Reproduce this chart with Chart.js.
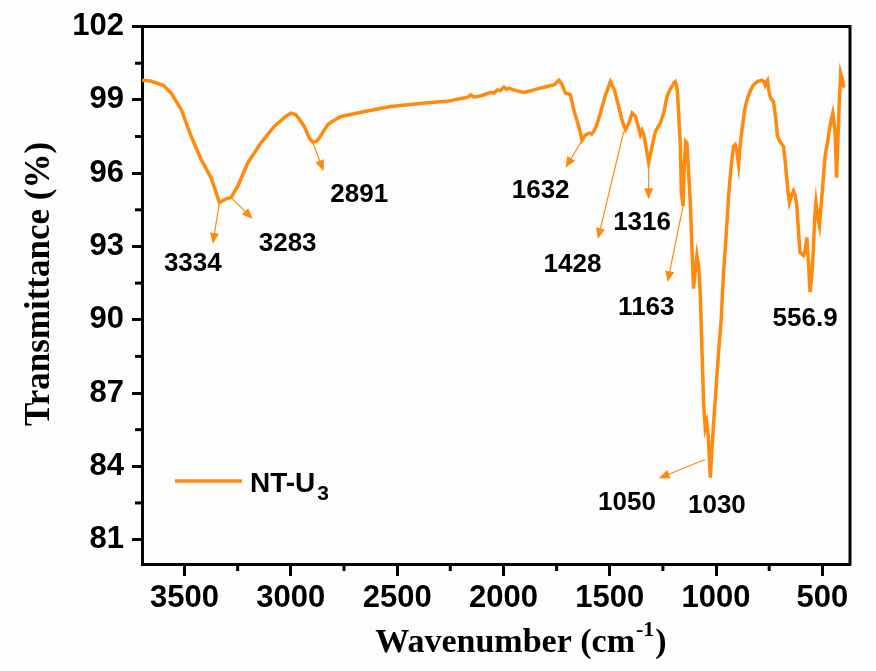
<!DOCTYPE html>
<html>
<head>
<meta charset="utf-8">
<title>FTIR NT-U3</title>
<script src="https://cdn.jsdelivr.net/npm/chart.js@4.4.0/dist/chart.umd.min.js"></script>
<style>
  html,body{margin:0;padding:0;background:#fdfdfd;}
  #wrap{width:876px;height:671px;}
</style>
</head>
<body>
<div id="wrap"><canvas id="ftir" width="876" height="671"></canvas></div>
<script>
// --- data ---
const wavenumber = [3700,3660,3600,3562,3515,3469,3422,3375,3336,3304,3281,3249,3202,3140,3077,3020,2999,2976,2955,2937,2913,2897,2880,2866,2827,2800,2764,2686,2600,2530,2450,2380,2300,2263,2220,2200,2170,2154,2140,2123,2100,2080,2060,2045,2029,2015,1998,1985,1975,1951,1930,1904,1870,1840,1794,1760,1739,1725,1708,1695,1685,1669,1646,1630,1615,1599,1585,1575,1560,1544,1520,1497,1478,1458,1440,1426,1410,1395,1379,1356,1348,1340,1328,1317,1301,1285,1262,1245,1231,1215,1207,1198,1192,1186,1181,1168,1163,1155,1149,1143,1137,1129,1121,1112,1106,1098,1090,1082,1074,1066,1058,1051,1044,1036,1027,1020,1012,1000,988,976,965,952,941,930,918,910,902,894,886,878,865,855,840,824,805,785,775,769,763,758,752,746,738,730,720,711,700,683,675,667,661,655,645,636,628,620,612,605,597,589,580,573,565,558,550,542,536,530,522,514,500,487,475,467,458,451,445,440,433,429,425,420,414,408,402,398];
const transmittance = [99.8,99.77,99.6,99.27,98.6,97.51,96.56,95.81,94.8,94.95,95.0,95.48,96.43,97.24,97.92,98.35,98.46,98.39,98.15,97.92,97.44,97.27,97.3,97.44,97.98,98.15,98.32,98.46,98.62,98.73,98.8,98.86,98.92,98.94,99.02,99.06,99.1,99.2,99.12,99.14,99.18,99.25,99.3,99.28,99.41,99.38,99.52,99.43,99.48,99.41,99.36,99.3,99.38,99.45,99.55,99.62,99.81,99.65,99.27,99.25,99.2,98.59,97.92,97.35,97.55,97.64,97.6,97.71,98.0,98.46,99.2,99.75,99.4,98.73,98.1,97.78,98.05,98.46,98.32,97.58,97.75,97.58,97.0,96.43,97.1,97.71,98.05,98.5,99.14,99.45,99.55,99.7,99.75,99.6,99.27,97.1,95.2,94.66,96.43,97.3,97.24,96.0,94.8,92.6,91.27,92.0,92.63,92.2,91.0,88.69,86.5,85.57,85.8,85.16,83.53,84.6,85.7,87.2,88.69,90.0,91.9,93.5,95.07,96.2,97.1,97.17,96.9,96.35,97.2,97.78,98.6,99.0,99.35,99.61,99.75,99.81,99.75,99.61,99.75,99.81,99.4,99.14,99.0,98.94,98.3,97.51,97.3,97.1,96.5,95.74,95.2,94.8,95.1,95.27,95.1,94.66,93.6,92.76,92.7,92.63,92.9,93.37,92.3,91.13,91.8,92.9,94.2,94.8,94.2,93.85,95.3,96.7,97.3,97.78,98.2,98.46,98.1,97.64,95.81,96.8,97.78,99.0,100.09,99.9,99.68,99.5];

const xTicks = [3500,3000,2500,2000,1500,1000,500];
const xMinor = [3250,2750,2250,1750,1250,750];
const yTicks = [81,84,87,90,93,96,99,102];
const yMinor = [82.5,85.5,88.5,91.5,94.5,97.5,100.5];

// peak labels: text centre (wavenumber, %T)
const peakLabels = ['3334','3283','2891','1632','1428','1316','1163','1050','1030','556.9'];
const labelX = [3461,3015,2678,1825,1675,1348,1328,1419,996,581];
const labelY = [92.28,93.1,95.13,95.27,92.23,93.98,90.48,82.52,82.38,90.05];
// arrows: from (fx,fy) to (tx,ty), null where the label has none
const arrowFromX = [3336,3281,2897,1630,1434,1317,1155,1051,null,null];
const arrowFromY = [94.8,95.0,97.27,97.35,97.71,96.2,94.66,84.28,null,null];
const arrowToX   = [3367,3179,2846,1708,1556,1317,1228,1270,null,null];
const arrowToY   = [93.1,94.12,96.08,96.22,93.3,94.93,91.54,83.51,null,null];

const seriesName = 'NT-U';
const seriesSub = '3';
const ORANGE = '#ff8a0e';
const SANS = '"Liberation Sans", Arial, sans-serif';
const SERIF = '"Liberation Serif", "Times New Roman", serif';

function arrow(ctx, x1, y1, x2, y2){
  const ang = Math.atan2(y2-y1, x2-x1);
  const len = 11, hw = 4.5;
  ctx.beginPath();
  ctx.moveTo(x1,y1);
  ctx.lineTo(x2 - Math.cos(ang)*len*0.8, y2 - Math.sin(ang)*len*0.8);
  ctx.stroke();
  ctx.beginPath();
  ctx.moveTo(x2,y2);
  ctx.lineTo(x2 - Math.cos(ang)*len - Math.sin(ang)*hw, y2 - Math.sin(ang)*len + Math.cos(ang)*hw);
  ctx.lineTo(x2 - Math.cos(ang)*len + Math.sin(ang)*hw, y2 - Math.sin(ang)*len - Math.cos(ang)*hw);
  ctx.closePath();
  ctx.fill();
}

const decor = {
  id:'decor',
  afterDraw(chart){
    const {ctx, chartArea:a, scales:{x,y}} = chart;
    ctx.save();
    // frame top/right
    ctx.strokeStyle='#000'; ctx.lineWidth=3;
    ctx.beginPath();
    ctx.moveTo(a.left-1.5, a.top); ctx.lineTo(a.right, a.top); ctx.lineTo(a.right, a.bottom+1.5);
    ctx.stroke();
    // minor ticks
    xMinor.forEach(v=>{
      const px = x.getPixelForValue(v);
      ctx.beginPath(); ctx.moveTo(px, a.bottom); ctx.lineTo(px, a.bottom+7); ctx.stroke();
    });
    yMinor.forEach(v=>{
      const py = y.getPixelForValue(v);
      ctx.beginPath(); ctx.moveTo(a.left, py); ctx.lineTo(a.left-7, py); ctx.stroke();
    });

    // arrows
    ctx.strokeStyle=ORANGE; ctx.fillStyle=ORANGE; ctx.lineWidth=1.2;
    arrowFromX.forEach((fx,i)=>{
      if(fx==null) return;
      arrow(ctx, x.getPixelForValue(fx), y.getPixelForValue(arrowFromY[i]),
                 x.getPixelForValue(arrowToX[i]), y.getPixelForValue(arrowToY[i]));
    });

    // peak labels
    ctx.fillStyle='#000';
    ctx.font='bold 26px '+SANS;
    ctx.textAlign='center'; ctx.textBaseline='middle';
    peakLabels.forEach((t,i)=>{
      ctx.fillText(t, x.getPixelForValue(labelX[i]), y.getPixelForValue(labelY[i]));
    });

    // legend
    ctx.strokeStyle=ORANGE; ctx.lineWidth=3.5;
    ctx.beginPath(); ctx.moveTo(175,481); ctx.lineTo(242,481); ctx.stroke();
    ctx.fillStyle='#000'; ctx.textAlign='left'; ctx.textBaseline='alphabetic';
    ctx.font='bold 28px '+SANS;
    ctx.fillText(seriesName, 250, 492);
    const w = ctx.measureText(seriesName).width;
    ctx.font='bold 21px '+SANS;
    ctx.fillText(seriesSub, 250+w+2, 500);

    // axis titles
    ctx.font='bold 35px '+SERIF;
    ctx.textAlign='center'; ctx.textBaseline='middle';
    ctx.save();
    ctx.translate(40, 284); ctx.rotate(-Math.PI/2);
    ctx.fillText('Transmittance (%)', 0, 0);
    ctx.restore();

    ctx.textAlign='left'; ctx.textBaseline='alphabetic';
    const main = 'Wavenumber (cm';
    ctx.font='bold 22px '+SERIF;
    const supW = ctx.measureText('-1').width;
    ctx.font='bold 34px '+SERIF;
    const mainW = ctx.measureText(main).width, closeW = ctx.measureText(')').width;
    let sx = 520 - (mainW + supW + closeW)/2;
    ctx.fillText(main, sx, 652);
    ctx.font='bold 22px '+SERIF;
    ctx.fillText('-1', sx+mainW+1, 636);
    ctx.font='bold 34px '+SERIF;
    ctx.fillText(')', sx+mainW+supW+2, 652);
    ctx.restore();
  }
};

new Chart(document.getElementById('ftir'), {
  type:'line',
  data:{
    datasets:[{
      label: seriesName+seriesSub,
      data: wavenumber.map((w,i)=>({x:w, y:transmittance[i]})),
      borderColor: ORANGE,
      borderWidth: 3.5,
      pointRadius: 0,
      tension: 0,
      fill: false
    }]
  },
  options:{
    responsive:false,
    animation:false,
    devicePixelRatio:1,
    layout:{padding:{top:23,right:26,left:0,bottom:0}},
    plugins:{legend:{display:false}, tooltip:{enabled:false}},
    scales:{
      x:{
        type:'linear', reverse:true, min:370, max:3700,
        afterBuildTicks(s){ s.ticks = xTicks.map(v=>({value:v})); },
        afterFit(s){ s.height = 107; },
        grid:{drawOnChartArea:false, tickLength:12, tickWidth:3, tickColor:'#000'},
        border:{display:true, width:3, color:'#000'},
        ticks:{color:'#000', font:{family:SANS, size:31, weight:'bold'}, padding:4, maxRotation:0, autoSkip:false,
               callback:v=>String(v)}
      },
      y:{
        min:80, max:102,
        afterBuildTicks(s){ s.ticks = yTicks.map(v=>({value:v})); },
        afterFit(s){ s.width = 142; },
        grid:{drawOnChartArea:false, tickLength:10, tickWidth:3, tickColor:'#000'},
        border:{display:true, width:3, color:'#000'},
        ticks:{color:'#000', font:{family:SANS, size:31, weight:'bold'}, padding:8, autoSkip:false,
               callback:v=>String(v)}
      }
    }
  },
  plugins:[decor]
});
</script>
</body>
</html>
